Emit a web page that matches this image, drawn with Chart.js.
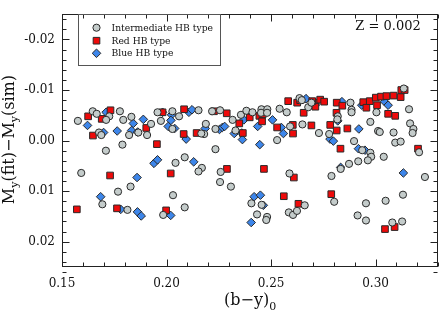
<!DOCTYPE html>
<html><head><meta charset="utf-8">
<script src="https://cdn.jsdelivr.net/npm/chart.js@4/dist/chart.umd.min.js"></script>
<style>html,body{margin:0;padding:0;background:#fff;}canvas{display:block;}</style>
</head><body>
<canvas id="c" width="444" height="313"></canvas>
<script>
const seriesNames = ["Intermediate HB type", "Red HB type", "Blue HB type"];
const annotationText = "Z = 0.002";
const xTickVals = [0.15, 0.20, 0.25, 0.30];
const yTickVals = [-0.02, -0.01, 0.00, 0.01, 0.02];

const interX = [0.1576,0.1647,0.1666,0.1726,0.1711,0.1777,0.1793,0.1832,0.1677,0.1688,0.1821,0.1865,0.1907,0.1926,0.1789,0.1710,0.1592,0.1768,0.1828,0.1693,0.1813,0.2043,0.2087,0.2031,0.2087,0.1984,0.1957,0.1973,0.2028,0.2060,0.2028,0.2153,0.2218,0.2256,0.2188,0.2180,0.2166,0.2234,0.2234,0.2169,0.2153,0.2259,0.2256,0.2308,0.2356,0.2382,0.2411,0.2454,0.2482,0.2452,0.2481,0.2541,0.2575,0.2529,0.2330,0.2316,0.2588,0.2406,0.2433,0.2455,0.2481,0.2477,0.2585,0.2605,0.2624,0.2661,0.2636,0.2647,0.2678,0.2650,0.2693,0.2591,0.2729,0.2778,0.2819,0.2817,0.2880,0.2885,0.2885,0.2975,0.3004,0.3012,0.3020,0.3086,0.3094,0.3120,0.2897,0.2936,0.2975,0.2979,0.2963,0.3039,0.2917,0.2873,0.2833,0.2789,0.2802,0.2954,0.2914,0.2954,0.3048,0.3080,0.3127,0.3131,0.3160,0.3165,0.3181,0.3177,0.3236,0.3208,0.3135];
const interY = [-0.0039,-0.0058,-0.0053,-0.0048,-0.0041,-0.0058,-0.0041,-0.0047,-0.0016,-0.0011,-0.0011,-0.0016,-0.0011,-0.0033,0.0008,0.0020,0.0064,0.0101,0.0091,0.0126,0.0137,0.0044,0.0033,0.0108,0.0132,0.0147,-0.0056,-0.0039,-0.0058,-0.0048,-0.0023,-0.0060,-0.0058,-0.0060,-0.0033,-0.0013,-0.0014,-0.0023,0.0017,0.0054,0.0061,0.0062,0.0082,0.0091,-0.0051,-0.0059,-0.0056,-0.0062,-0.0062,-0.0055,-0.0055,-0.0063,-0.0056,-0.0001,-0.0020,-0.0041,0.0065,0.0124,0.0146,0.0127,0.0151,0.0157,0.0142,0.0147,0.0139,0.0128,-0.0084,-0.0080,-0.0066,-0.0032,-0.0075,-0.0028,-0.0015,-0.0013,-0.0048,-0.0042,-0.0075,-0.0061,-0.0056,-0.0037,-0.0056,-0.0019,-0.0017,-0.0016,0.0004,0.0002,0.0001,0.0019,0.0024,0.0032,0.0039,0.0032,0.0041,0.0046,0.0056,0.0070,0.0121,0.0124,0.0148,0.0158,0.0119,0.0162,0.0160,0.0107,-0.0062,-0.0034,-0.0023,-0.0015,0.0072,0.0023,-0.0103];

const redX = [0.1625,0.1690,0.1648,0.1732,0.1903,0.1954,0.1730,0.2020,0.1571,0.1763,0.1998,0.2084,0.2082,0.1981,0.2227,0.2288,0.2144,0.2348,0.2398,0.2444,0.2460,0.2457,0.2365,0.2289,0.2466,0.2609,0.2561,0.2631,0.2582,0.2625,0.2639,0.2656,0.2693,0.2529,0.2604,0.2605,0.2714,0.2712,0.2735,0.2754,0.2814,0.2841,0.2813,0.2783,0.2814,0.2865,0.2832,0.2788,0.2941,0.2956,0.2972,0.3007,0.3001,0.3026,0.3052,0.3086,0.3120,0.3123,0.3139,0.3060,0.3094,0.3203,0.3045,0.3091,0.2697];
const redY = [-0.0048,-0.0043,-0.0010,-0.0060,-0.0025,0.0007,0.0069,0.0065,0.0136,0.0134,0.0138,-0.0062,-0.0013,-0.0056,-0.0058,-0.0054,-0.0015,-0.0034,-0.0046,-0.0049,-0.0052,-0.0038,-0.0015,0.0056,0.0056,0.0073,0.0110,0.0125,-0.0078,-0.0075,-0.0080,-0.0055,-0.0030,-0.0026,-0.0031,-0.0014,-0.0075,-0.0067,-0.0081,-0.0077,-0.0075,-0.0069,-0.0055,-0.0031,-0.0020,-0.0024,0.0016,0.0106,-0.0076,-0.0065,-0.0078,-0.0070,-0.0085,-0.0087,-0.0088,-0.0089,-0.0086,-0.0100,-0.0100,-0.0053,-0.0049,0.0016,0.0175,0.0171,-0.0078];

const blueX = [0.1622,0.1711,0.1699,0.1764,0.1841,0.1833,0.1862,0.1889,0.1981,0.2024,0.2021,0.2008,0.2039,0.2094,0.2107,0.2122,0.1940,0.1957,0.1859,0.1685,0.1781,0.1861,0.1879,0.2020,0.2185,0.2253,0.2267,0.2278,0.2324,0.2360,0.2363,0.2370,0.2436,0.2446,0.2507,0.2549,0.2559,0.2130,0.2419,0.2449,0.2463,0.2405,0.2667,0.2839,0.2819,0.2920,0.2782,0.2798,0.2918,0.2949,0.2833,0.3133,0.2934,0.3043,0.3060];
const blueY = [-0.0030,-0.0056,-0.0016,-0.0019,-0.0034,-0.0020,-0.0017,-0.0042,-0.0056,-0.0051,-0.0040,-0.0028,-0.0024,-0.0003,-0.0056,-0.0061,0.0045,0.0038,0.0073,0.0111,0.0136,0.0141,0.0149,0.0148,-0.0024,-0.0022,-0.0026,-0.0028,-0.0014,-0.0015,-0.0002,-0.0041,-0.0028,0.0008,-0.0041,-0.0026,-0.0014,0.0042,0.0111,0.0108,0.0128,0.0162,-0.0083,-0.0077,-0.0039,-0.0023,-0.0003,0.0001,0.0016,0.0019,0.0053,0.0064,-0.0070,-0.0077,-0.0070];

const FONT = "'DejaVu Serif', serif";
const styles = [
  {pointStyle:'circle', radius:3.6, bg:'#c4cccb', border:'#2a2a2a'},
  {pointStyle:'rect', radius:4.7, bg:'#ee0a0a', border:'#2a2a2a'},
  {pointStyle:'rectRot', radius:4.3, bg:'#3d86ea', border:'#2a2a2a'}
];
const xs = [interX, redX, blueX], ys = [interY, redY, blueY];

const datasets = seriesNames.map((name, i) => ({
  label: name,
  data: xs[i].map((x, k) => ({x: x, y: ys[i][k]})),
  pointStyle: styles[i].pointStyle,
  pointRadius: styles[i].radius,
  pointBackgroundColor: styles[i].bg,
  pointBorderColor: styles[i].border,
  pointBorderWidth: 1,
  showLine: false
}));

const framePlugin = {
  id: 'frame',
  afterDraw(chart) {
    const ctx = chart.ctx, a = chart.chartArea;
    const xs_ = chart.scales.x, ys_ = chart.scales.y;
    ctx.save();
    ctx.strokeStyle = '#222'; ctx.lineWidth = 1;
    const L = Math.round(a.left) + 0.5, R = Math.round(a.right) - 0.5;
    const T = Math.round(a.top) + 0.5, B = Math.round(a.bottom) - 0.5;
    ctx.strokeRect(L, T, R - L, B - T);
    ctx.beginPath();
    // x ticks (minor every 0.01, major at labels)
    for (let i = 0; i <= 18; i++) {
      const v = 0.15 + i * 0.01;
      const px = Math.round(xs_.getPixelForValue(v)) + 0.5;
      const len = (i % 5 === 0) ? 7 : 4;
      ctx.moveTo(px, B); ctx.lineTo(px, B - len);
      ctx.moveTo(px, T); ctx.lineTo(px, T + len);
    }
    for (let i = 0; i <= 25; i++) {
      const v = -0.024 + i * 0.002;
      const py = Math.round(ys_.getPixelForValue(v)) + 0.5;
      const major = Math.abs(Math.round(v * 100) - v * 100) < 1e-6;
      const len = major ? 7 : 4;
      ctx.moveTo(L, py); ctx.lineTo(L + len, py);
      ctx.moveTo(R, py); ctx.lineTo(R - len, py);
    }
    ctx.stroke();

    // legend box
    ctx.strokeStyle = '#555';
    ctx.strokeRect(78.5, 14.5, 142, 51);
    const ly = [27.7, 40.7, 53.3];
    seriesNames.forEach((n, i) => {
      ctx.fillStyle = styles[i].bg; ctx.strokeStyle = styles[i].border; ctx.lineWidth = 1;
      Chart.helpers.drawPoint(ctx, {pointStyle: styles[i].pointStyle, radius: styles[i].radius, rotation: 0, borderWidth: 1}, 96.5, ly[i]);
      ctx.fillStyle = '#111';
      ctx.font = "9.2px " + FONT;
      ctx.textBaseline = 'middle'; ctx.textAlign = 'left';
      ctx.fillText(n, 111.5, ly[i] + 0.5);
    });

    // Z annotation
    ctx.fillStyle = '#111';
    ctx.font = "13px " + FONT;
    ctx.textAlign = 'center'; ctx.textBaseline = 'alphabetic';
    ctx.fillText(annotationText, 388, 29.5);

    // x title "(b−y)0"
    const big = "16px " + FONT, small = "11px " + FONT;
    ctx.font = big; const w1 = ctx.measureText("(b\u2212y)").width;
    ctx.font = small; const w2 = ctx.measureText("0").width;
    let x0 = (a.left + a.right) / 2 - (w1 + w2) / 2;
    ctx.textAlign = 'left';
    ctx.font = big; ctx.fillText("(b\u2212y)", x0, 305);
    ctx.font = small; ctx.fillText("0", x0 + w1, 309.5);

    // y title "My(fit)−My(sim)"
    const parts = [["M", big, 0], ["y", small, 4], ["(fit)\u2212M", big, 0], ["y", small, 4], ["(sim)", big, 0]];
    let tw = 0;
    parts.forEach(p => { ctx.font = p[1]; p.push(ctx.measureText(p[0]).width); tw += p[3]; });
    ctx.translate(14, (a.top + a.bottom) / 2 - 1);
    ctx.rotate(-Math.PI / 2);
    let cx = -tw / 2;
    parts.forEach(p => { ctx.font = p[1]; ctx.fillText(p[0], cx, p[2]); cx += p[3]; });
    ctx.restore();
  }
};

new Chart(document.getElementById('c'), {
  type: 'scatter',
  data: { datasets },
  options: {
    responsive: false,
    animation: false,
    devicePixelRatio: 1,
    layout: { padding: { left: 0, right: 2, top: 2, bottom: 0 } },
    plugins: { legend: { display: false }, tooltip: { enabled: false } },
    scales: {
      x: {
        type: 'linear', min: 0.15, max: 0.33,
        grid: { display: false, drawTicks: false },
        border: { display: false },
        afterBuildTicks: s => { s.ticks = xTickVals.map(v => ({ value: v })); },
        afterFit: s => { s.height = 46; },
        ticks: { padding: 10, color: '#111', font: { family: FONT, size: 12 }, maxRotation: 0, callback: v => Number(v).toFixed(2) }
      },
      y: {
        type: 'linear', min: -0.025, max: 0.025, reverse: true,
        grid: { display: false, drawTicks: false },
        border: { display: false },
        afterBuildTicks: s => { s.ticks = yTickVals.map(v => ({ value: v })); },
        afterFit: s => { s.width = 62; },
        ticks: { padding: 7, color: '#111', font: { family: FONT, size: 12 }, callback: v => Number(v).toFixed(2) }
      }
    }
  },
  plugins: [framePlugin]
});
</script>
</body></html>
